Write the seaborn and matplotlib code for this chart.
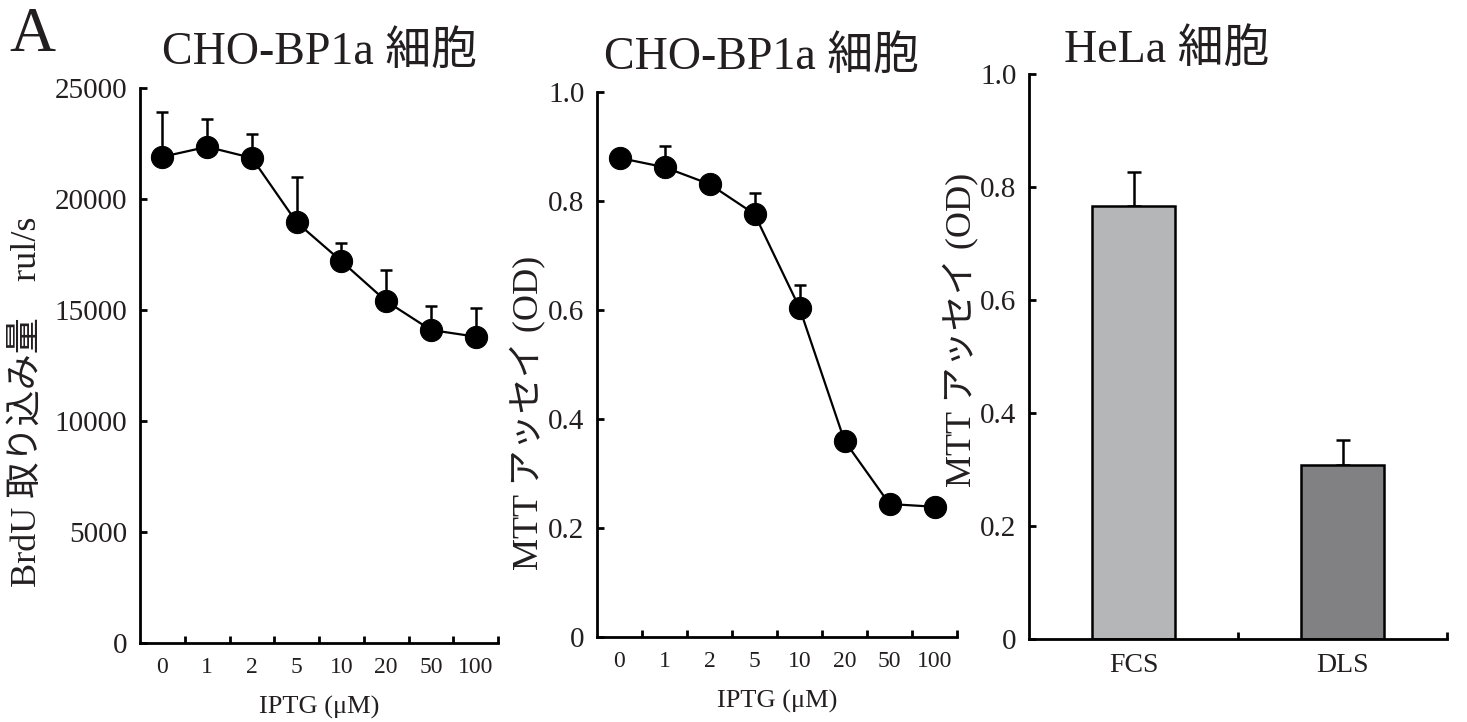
import numpy as np
import pandas as pd
import matplotlib
matplotlib.use("Agg")
import matplotlib.pyplot as plt
import seaborn as sns

# ---- data ----
iptg_labels = ["0", "1", "2", "5", "10", "20", "50", "100"]
brdu_mean = [21900, 22350, 21850, 18950, 17200, 15400, 14100, 13800]
brdu_err = [2000, 1250, 1100, 2050, 800, 1400, 1100, 1300]
mtt_mean = [0.879, 0.862, 0.831, 0.776, 0.604, 0.360, 0.244, 0.239]
mtt_err = [0.008, 0.039, 0.008, 0.039, 0.042, 0.008, 0.008, 0.008]
hela_cats = ["FCS", "DLS"]
hela_mean = [0.766, 0.308]
hela_err = [0.061, 0.044]
hela_colors = ["#b5b6b8", "#808184"]

titles = ["CHO-BP1a 細胞", "CHO-BP1a 細胞", "HeLa 細胞"]
ylabels = ["BrdU 取り込み量\u3000rul/s", "MTT アッセイ (OD)", "MTT アッセイ (OD)"]
xlabel = "IPTG (μM)"

sns.set_theme(style="white")
FAM = ["Liberation Serif", "Noto Sans CJK JP", "DejaVu Sans"]
plt.rcParams["font.family"] = FAM
plt.rcParams["axes.unicode_minus"] = False

fig = plt.figure(figsize=(14.67, 7.22), dpi=100)
W, H = 1467, 722

def add_ax(l, r, t, b):
    return fig.add_axes([l / W, 1 - b / H, (r - l) / W, (b - t) / H])

ax1 = add_ax(140, 498, 88, 643)
ax2 = add_ax(597, 957, 92, 637)
ax3 = add_ax(1029, 1447, 74, 639)

TXT = "#231f20"

def style(ax, n, xls=17):
    for s in ["top", "right"]:
        ax.spines[s].set_visible(False)
    for s in ["left", "bottom"]:
        ax.spines[s].set_color("black")
        ax.spines[s].set_linewidth(2.0)
    ax.set_xlim(-0.5, n - 0.5)
    ax.set_xticks(np.arange(n))
    ax.set_xticks(np.arange(n) + 0.5, minor=True)
    ax.tick_params(axis="x", which="major", length=0, pad=10, labelsize=xls, labelcolor=TXT)
    ax.tick_params(axis="x", which="minor", direction="in", length=5, width=2, color="black", bottom=True)
    ax.tick_params(axis="y", which="major", direction="in", length=5, width=2, color="black",
                   left=True, pad=9, labelsize=21, labelcolor=TXT)
    ax.grid(False)

# ---- panel 1: BrdU ----
pos = np.arange(len(iptg_labels))
df1 = pd.DataFrame({"pos": pos, "val": brdu_mean})
ax1.errorbar(pos, brdu_mean, yerr=[np.zeros(len(pos)), brdu_err], fmt="none",
             ecolor="black", elinewidth=1.8, capsize=4, capthick=1.8, zorder=2)
sns.lineplot(data=df1, x="pos", y="val", ax=ax1, color="black", linewidth=1.6,
             marker="o", markersize=16, markeredgecolor="black", markerfacecolor="black", zorder=3)
ax1.set_ylim(0, 25000)
ax1.set_yticks([0, 5000, 10000, 15000, 20000, 25000])
style(ax1, len(pos))
ax1.set_xticklabels(iptg_labels)

# ---- panel 2: MTT ----
df2 = pd.DataFrame({"pos": pos, "val": mtt_mean})
ax2.errorbar(pos, mtt_mean, yerr=[np.zeros(len(pos)), mtt_err], fmt="none",
             ecolor="black", elinewidth=1.8, capsize=4, capthick=1.8, zorder=2)
sns.lineplot(data=df2, x="pos", y="val", ax=ax2, color="black", linewidth=1.6,
             marker="o", markersize=16, markeredgecolor="black", markerfacecolor="black", zorder=3)
ax2.set_ylim(0, 1.0)
ax2.set_yticks([0, 0.2, 0.4, 0.6, 0.8, 1.0])
ax2.set_yticklabels(["0", "0.2", "0.4", "0.6", "0.8", "1.0"])
style(ax2, len(pos))
ax2.set_xticklabels(iptg_labels)

# ---- panel 3: HeLa bars ----
df3 = pd.DataFrame({"cat": hela_cats, "val": hela_mean})
sns.barplot(data=df3, x="cat", y="val", hue="cat", palette=hela_colors, legend=False,
            width=0.4, edgecolor="black", linewidth=1.8, ax=ax3, zorder=2)
ax3.errorbar(np.arange(2), hela_mean, yerr=[np.zeros(2), hela_err], fmt="none",
             ecolor="black", elinewidth=1.8, capsize=5, capthick=1.8, zorder=1)
ax3.set_ylim(0, 1.0)
ax3.set_yticks([0, 0.2, 0.4, 0.6, 0.8, 1.0])
ax3.set_yticklabels(["0", "0.2", "0.4", "0.6", "0.8", "1.0"])
style(ax3, 2, xls=20)
ax3.set_xticklabels(hela_cats)

for ax in (ax1, ax2, ax3):
    ax.set_xlabel("")
    ax.set_ylabel("")

# x labels
for ax in (ax1, ax2):
    ax.set_xlabel(xlabel, fontsize=19, color=TXT, labelpad=13)

# y labels
ycoords = [((27 - 140) / 358, (643 - 402) / 555, ax1),
           ((527 - 597) / 360, (637 - 413) / 545, ax2),
           ((960 - 1029) / 418, (639 - 330) / 565, ax3)]
for (xc, yc, ax), lab in zip(ycoords, ylabels):
    ax.set_ylabel(lab, fontsize=26, color=TXT)
    ax.yaxis.label.set_rotation_mode("default")
    ax.yaxis.label.set_verticalalignment("center")
    ax.yaxis.label.set_horizontalalignment("center")
    ax.yaxis.set_label_coords(xc, yc)

# titles
tpos = [((320 - 140) / 358, (643 - 61) / 555, ax1),
        ((762 - 597) / 360, (637 - 66) / 545, ax2),
        ((1167 - 1029) / 418, (639 - 59) / 565, ax3)]
for (xc, yc, ax), t in zip(tpos, titles):
    ax.set_title(t, x=xc, y=yc, fontsize=33, color=TXT, va="center", ha="center")

fig.text(32 / W, 1 - 36 / H, "A", fontsize=46, color=TXT, ha="center", va="center",
         family=["Liberation Serif"])

fig.savefig("out.png", dpi=100, facecolor="white")
